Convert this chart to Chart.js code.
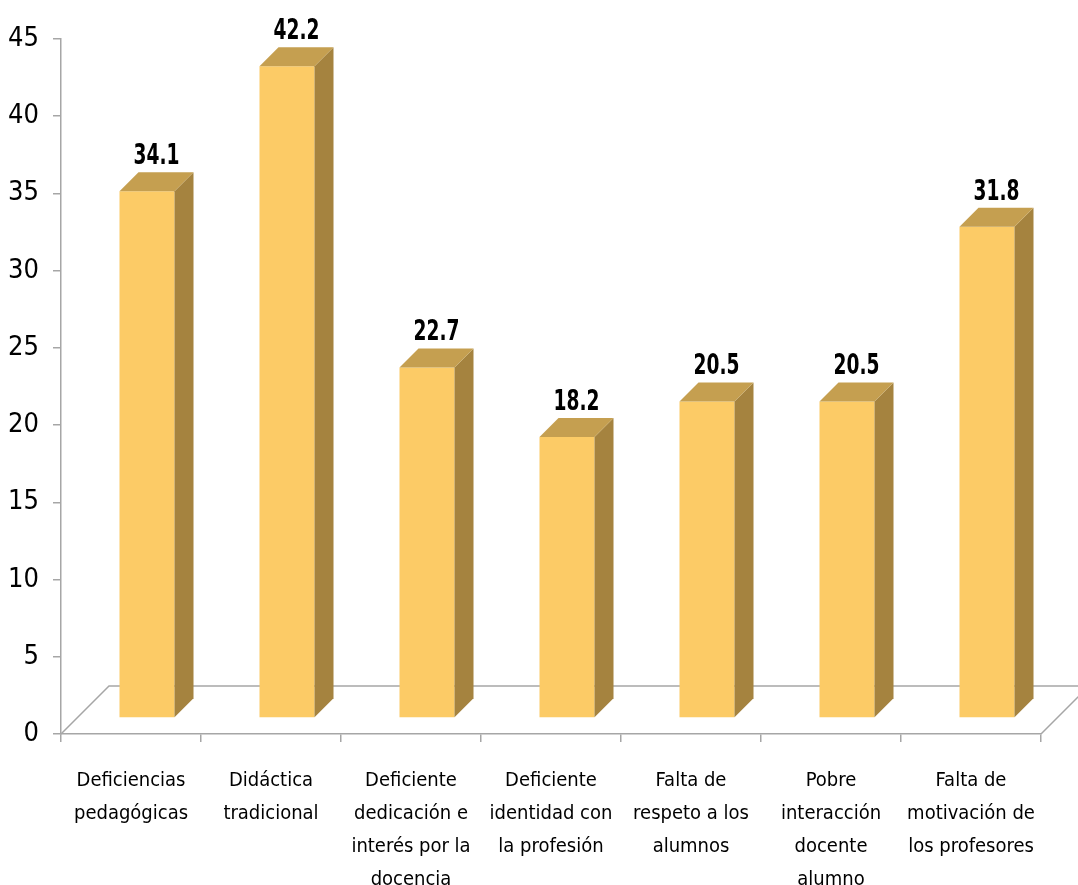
<!DOCTYPE html>
<html>
<head>
<meta charset="utf-8">
<script src="https://cdn.jsdelivr.net/npm/chart.js@4/dist/chart.umd.min.js"></script>
<style>
  body { margin: 0; background: #fff; }
  #wrap { width: 1078px; height: 885px; }
</style>
</head>
<body>
<div id="wrap"><canvas id="causasChart"></canvas></div>
<script>
const categories = [
  ["Deficiencias", "pedagógicas"],
  ["Didáctica", "tradicional"],
  ["Deficiente", "dedicación e", "interés por la", "docencia"],
  ["Deficiente", "identidad con", "la profesión"],
  ["Falta de", "respeto a los", "alumnos"],
  ["Pobre", "interacción", "docente", "alumno"],
  ["Falta de", "motivación de", "los profesores"],
];
const values = [34.1, 42.2, 22.7, 18.2, 20.5, 20.5, 31.8];
const yTicks = [0, 5, 10, 15, 20, 25, 30, 35, 40, 45];

const FONT = '"Liberation Sans Narrow", "DejaVu Sans Condensed", sans-serif';
const SHIFT = 16;   // bars sit a third of the way into the floor
const DEPTH = 48;   // floor depth
const SIDE = 19;    // bar side / top depth

const bars3d = {
  id: "bars3d",
  beforeDatasetsDraw(chart) {
    const { ctx, chartArea } = chart;
    const x0 = chartArea.left, x1 = chartArea.right, y0 = chartArea.bottom;
    ctx.save();
    ctx.strokeStyle = "#a6a6a6";
    ctx.lineWidth = 1.5;
    ctx.beginPath();
    ctx.moveTo(x0, y0);
    ctx.lineTo(x0 + DEPTH, y0 - DEPTH);
    ctx.lineTo(x1 + DEPTH, y0 - DEPTH);
    ctx.moveTo(x1, y0);
    ctx.lineTo(x1 + DEPTH, y0 - DEPTH);
    ctx.stroke();
    ctx.restore();
    ctx.save();
    ctx.translate(SHIFT, -SHIFT);
  },
  afterDatasetsDraw(chart) {
    const { ctx } = chart;
    const meta = chart.getDatasetMeta(0);
    meta.data.forEach((bar, i) => {
      const { x, y, base, width } = bar.getProps(["x", "y", "base", "width"], true);
      const l = x - width / 2, r = x + width / 2;
      ctx.fillStyle = "#a5833f";
      ctx.beginPath();
      ctx.moveTo(r, y);
      ctx.lineTo(r + SIDE, y - SIDE);
      ctx.lineTo(r + SIDE, base - SIDE);
      ctx.lineTo(r, base);
      ctx.closePath();
      ctx.fill();
      ctx.fillStyle = "#c59f50";
      ctx.beginPath();
      ctx.moveTo(l, y);
      ctx.lineTo(l + SIDE, y - SIDE);
      ctx.lineTo(r + SIDE, y - SIDE);
      ctx.lineTo(r, y);
      ctx.closePath();
      ctx.fill();
      // value label, squeezed horizontally like the original narrow font
      ctx.save();
      ctx.translate(x + SIDE / 2, y - SIDE - 8);
      ctx.scale(0.74, 1);
      ctx.fillStyle = "#000";
      ctx.font = "bold 28px " + FONT;
      ctx.textAlign = "center";
      ctx.textBaseline = "alphabetic";
      ctx.fillText(values[i].toFixed(1), 0, 0);
      ctx.restore();
    });
    ctx.restore();
  },
};

const ctx = document.getElementById("causasChart").getContext("2d");
new Chart(ctx, {
  type: "bar",
  data: {
    labels: categories,
    datasets: [
      {
        label: "Causas",
        data: values,
        backgroundColor: "#fccb66",
        borderWidth: 0,
        categoryPercentage: 1,
        barPercentage: 0.393,
      },
    ],
  },
  options: {
    responsive: true,
    maintainAspectRatio: false,
    animation: false,
    layout: { padding: { top: 39, right: 37, left: 0, bottom: 0 } },
    plugins: {
      legend: { display: false },
      tooltip: { enabled: false },
    },
    scales: {
      x: {
        grid: {
          drawOnChartArea: false,
          tickLength: 8,
          color: "#a6a6a6",
          lineWidth: 1.5,
        },
        border: { color: "#a6a6a6", width: 1.5 },
        ticks: {
          color: "#000",
          font: { family: FONT, size: 20, lineHeight: 1.65 },
          maxRotation: 0,
          autoSkip: false,
          padding: 22,
        },
        afterFit(scale) {
          scale.height = 151;
        },
      },
      y: {
        min: 0,
        max: 45,
        afterBuildTicks(scale) {
          scale.ticks = yTicks.map((v) => ({ value: v }));
        },
        grid: {
          drawOnChartArea: false,
          tickLength: 8,
          color: "#a6a6a6",
          lineWidth: 1.5,
        },
        border: { color: "#a6a6a6", width: 1.5 },
        ticks: {
          color: "#000",
          font: { family: FONT, size: 27 },
          padding: 14,
        },
        afterFit(scale) {
          scale.width = 61;
        },
      },
    },
  },
  plugins: [bars3d],
});
</script>
</body>
</html>
